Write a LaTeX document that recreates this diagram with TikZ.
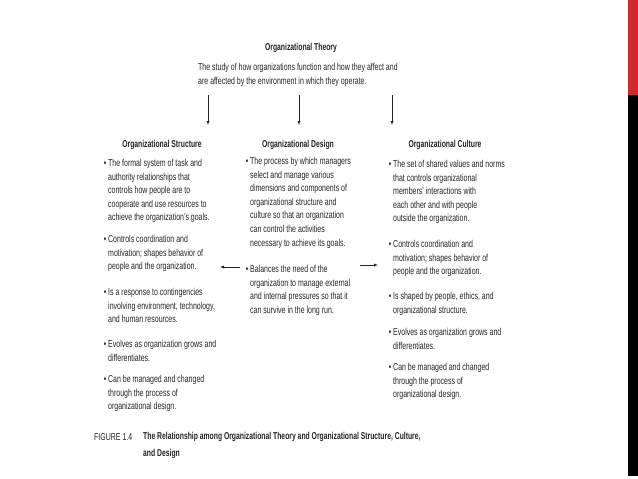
\documentclass[tikz,border=0pt]{standalone}
\usepackage{fontspec}
\setmainfont{Liberation Sans}[FakeStretch=0.7, BoldFeatures={FakeStretch=0.68}]
\newcommand{\pt}{\llap{\textbullet\hspace{2pt}}}

\definecolor{barred}{RGB}{211,40,48}
\definecolor{ink}{RGB}{35,35,35}

\begin{document}
\begin{tikzpicture}[
	x=1pt, y=-1pt,
	theory/.style={
		inner sep=0pt,
		text=ink,
		font=\bfseries\fontsize{10}{13.6}\selectfont
	},
	intro/.style={
		anchor=north west,
		inner sep=0pt,
		align=left,
		text=ink,
		font=\fontsize{10}{14}\selectfont
	},
	heading/.style={
		theory
	},
	para/.style={
		anchor=north west,
		inner sep=0pt,
		align=left,
		text=ink,
		font=\fontsize{10}{13.6}\selectfont
	},
	caption/.style={
		anchor=north west,
		inner sep=0pt,
		align=left,
		text=ink,
		font=\bfseries\fontsize{10}{17}\selectfont
	},
	edge/.style={-latex,thin,ink}
]
\useasboundingbox (0,0) rectangle (638,479);

% Side bar
\fill[barred] (628,0) rectangle (638,95);
\fill[black] (628,95) rectangle (638,476);

% Top
\node[theory] (theory) at (301,48) {Organizational Theory};
\node[intro] (intro) at (198,63) {The study of how organizations function and how they affect and\\are affected by the environment in which they operate.};

% Column headings
\node[heading] (struct) at (162,145) {Organizational Structure};
\node[heading] (design) at (298,145) {Organizational Design};
\node[heading] (culture) at (445,145) {Organizational Culture};

% Structure column
\node[para] (s1) at (108,159) {\pt The formal system of task and\\authority relationships that\\controls how people are to\\cooperate and use resources to\\achieve the organization's goals.};
\node[para] (s2) at (108,235) {\pt Controls coordination and\\motivation; shapes behavior of\\people and the organization.};
\node[para] (s3) at (108,288) {\pt Is a response to contingencies\\involving environment, technology,\\and human resources.};
\node[para] (s4) at (108,340) {\pt Evolves as organization grows and\\differentiates.};
\node[para] (s5) at (108,375) {\pt Can be managed and changed\\through the process of\\organizational design.};

% Design column
\node[para] (d1) at (250,157) {\pt The process by which managers\\select and manage various\\dimensions and components of\\organizational structure and\\culture so that an organization\\can control the activities\\necessary to achieve its goals.};
\node[para] (d2) at (250,265) {\pt Balances the need of the\\organization to manage external\\and internal pressures so that it\\can survive in the long run.};

% Culture column
\node[para] (c1) at (393,160) {\pt The set of shared values and norms\\that controls organizational\\members' interactions with\\each other and with people\\outside the organization.};
\node[para] (c2) at (393,240) {\pt Controls coordination and\\motivation; shapes behavior of\\people and the organization.};
\node[para] (c3) at (393,292) {\pt Is shaped by people, ethics, and\\organizational structure.};
\node[para] (c4) at (393,328) {\pt Evolves as organization grows and\\differentiates.};
\node[para] (c5) at (393,363) {\pt Can be managed and changed\\through the process of\\organizational design.};

% Caption
\node[caption, font=\fontsize{10}{17}\selectfont] (fig) at (94,433) {FIGURE 1.4};
\node[caption] (cap) at (143,432) {The Relationship among Organizational Theory and Organizational Structure, Culture,\\and Design};

% Arrows
\coordinate (a1) at (208,95);
\coordinate (a2) at (299,95);
\coordinate (a3) at (392,95);
\coordinate (t1) at (208,125);
\coordinate (t2) at (299,125);
\coordinate (t3) at (392,125);
\draw[edge] (a1) -- (t1);
\draw[edge] (a2) -- (t2);
\draw[edge] (a3) -- (t3);

\coordinate (l0) at (240,267);
\coordinate (l1) at (220,267);
\coordinate (r0) at (360,265);
\coordinate (r1) at (378,265);
\draw[edge] (l0) -- (l1);
\draw[edge] (r0) -- (r1);

\end{tikzpicture}
\end{document}
